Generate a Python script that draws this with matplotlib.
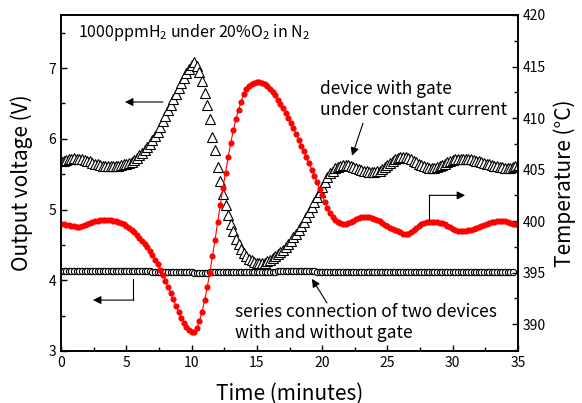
import matplotlib
matplotlib.use("Agg")
import matplotlib.pyplot as plt
import numpy as np
from matplotlib.ticker import MultipleLocator

plt.rcParams["font.family"] = ["Noto Sans CJK JP", "DejaVu Sans"]
plt.rcParams["mathtext.fontset"] = "custom"
plt.rcParams["mathtext.rm"] = "Noto Sans CJK JP"
plt.rcParams["mathtext.it"] = "Noto Sans CJK JP"

# sampling every 0.2 min, 0 .. 35 min
time = np.round(np.arange(176) * 0.2, 1)

# device with gate under constant current (left axis, V)
gate_v = [
    5.68, 5.69, 5.70, 5.71, 5.72, 5.73, 5.72, 5.72, 5.71, 5.70,
    5.69, 5.68, 5.66, 5.65, 5.64, 5.63, 5.62, 5.62, 5.61, 5.61,
    5.61, 5.62, 5.62, 5.63, 5.64, 5.65, 5.66, 5.67, 5.70, 5.73,
    5.77, 5.80, 5.84, 5.88, 5.93, 5.98, 6.04, 6.10, 6.17, 6.25,
    6.32, 6.40, 6.48, 6.56, 6.64, 6.72, 6.79, 6.86, 6.93, 6.99,
    7.04, 7.08, 7.03, 6.94, 6.81, 6.65, 6.48, 6.28, 6.03, 5.84,
    5.60, 5.40, 5.22, 5.06, 4.92, 4.80, 4.69, 4.59, 4.51, 4.44,
    4.38, 4.34, 4.30, 4.28, 4.26, 4.25, 4.24, 4.24, 4.25, 4.27,
    4.29, 4.32, 4.34, 4.37, 4.40, 4.43, 4.47, 4.51, 4.56, 4.61,
    4.66, 4.71, 4.77, 4.83, 4.90, 4.97, 5.04, 5.11, 5.18, 5.25,
    5.32, 5.39, 5.46, 5.51, 5.55, 5.58, 5.60, 5.62, 5.63, 5.63,
    5.63, 5.62, 5.60, 5.58, 5.57, 5.56, 5.55, 5.54, 5.53, 5.53,
    5.53, 5.54, 5.55, 5.57, 5.60, 5.63, 5.66, 5.69, 5.71, 5.73,
    5.74, 5.74, 5.74, 5.73, 5.71, 5.69, 5.67, 5.65, 5.63, 5.61,
    5.60, 5.59, 5.59, 5.59, 5.60, 5.61, 5.63, 5.65, 5.67, 5.68,
    5.70, 5.71, 5.72, 5.72, 5.72, 5.72, 5.72, 5.71, 5.70, 5.69,
    5.68, 5.67, 5.66, 5.65, 5.64, 5.63, 5.62, 5.61, 5.60, 5.60,
    5.59, 5.59, 5.59, 5.60, 5.61, 5.62,
]

# series connection of two devices (left axis, V), ends at 34.6 min
series_v = [
    4.13, 4.13, 4.13, 4.13, 4.13, 4.13, 4.13, 4.13, 4.13, 4.13,
    4.13, 4.13, 4.13, 4.13, 4.13, 4.13, 4.13, 4.13, 4.13, 4.13,
    4.13, 4.13, 4.13, 4.13, 4.13, 4.13, 4.13, 4.13, 4.13, 4.13,
    4.13, 4.13, 4.13, 4.13, 4.13, 4.12, 4.12, 4.12, 4.12, 4.12,
    4.12, 4.12, 4.12, 4.12, 4.12, 4.11, 4.11, 4.11, 4.11, 4.11,
    4.11, 4.10, 4.10, 4.10, 4.10, 4.10, 4.10, 4.11, 4.11, 4.11,
    4.11, 4.12, 4.12, 4.12, 4.12, 4.12, 4.12, 4.12, 4.12, 4.12,
    4.12, 4.12, 4.12, 4.12, 4.12, 4.12, 4.12, 4.12, 4.12, 4.12,
    4.12, 4.12, 4.12, 4.13, 4.13, 4.13, 4.13, 4.13, 4.13, 4.13,
    4.13, 4.13, 4.13, 4.13, 4.13, 4.13, 4.13, 4.13, 4.12, 4.12,
    4.12, 4.12, 4.12, 4.12, 4.12, 4.12, 4.12, 4.12, 4.12, 4.12,
    4.12, 4.12, 4.12, 4.12, 4.12, 4.12, 4.12, 4.12, 4.12, 4.12,
    4.12, 4.12, 4.12, 4.12, 4.12, 4.12, 4.12, 4.12, 4.12, 4.12,
    4.12, 4.12, 4.12, 4.12, 4.12, 4.12, 4.12, 4.12, 4.12, 4.12,
    4.12, 4.12, 4.12, 4.12, 4.12, 4.12, 4.12, 4.12, 4.12, 4.12,
    4.12, 4.12, 4.12, 4.12, 4.12, 4.12, 4.12, 4.12, 4.12, 4.12,
    4.12, 4.12, 4.12, 4.12, 4.12, 4.12, 4.12, 4.12, 4.12, 4.12,
    4.12, 4.12, 4.12, 4.12,
]

# temperature (right axis, deg C)
temp_c = [
    399.7, 399.7, 399.6, 399.6, 399.5, 399.5, 399.4, 399.4, 399.5, 399.6,
    399.7, 399.8, 399.9, 400.0, 400.0, 400.1, 400.1, 400.1, 400.1, 400.1,
    400.0, 400.0, 399.9, 399.8, 399.7, 399.5, 399.3, 399.1, 398.9, 398.7,
    398.4, 398.1, 397.8, 397.5, 397.1, 396.7, 396.2, 395.8, 395.3, 394.8,
    394.2, 393.6, 393.0, 392.4, 391.8, 391.2, 390.6, 390.1, 389.7, 389.4,
    389.2, 389.2, 389.6, 390.3, 391.2, 392.3, 393.6, 395.0, 396.6, 398.2,
    399.9, 401.6, 403.2, 404.7, 406.2, 407.6, 408.8, 409.9, 410.8, 411.6,
    412.3, 412.8, 413.1, 413.3, 413.4, 413.5, 413.5, 413.4, 413.3, 413.1,
    412.8, 412.5, 412.2, 411.8, 411.4, 411.0, 410.5, 410.0, 409.5, 409.0,
    408.5, 407.9, 407.3, 406.8, 406.2, 405.6, 405.0, 404.4, 403.8, 403.1,
    402.5, 401.9, 401.3, 400.8, 400.4, 400.1, 399.9, 399.8, 399.7, 399.7,
    399.8, 399.9, 400.0, 400.2, 400.3, 400.4, 400.4, 400.4, 400.4, 400.3,
    400.2, 400.1, 400.0, 399.8, 399.6, 399.5, 399.3, 399.2, 399.1, 399.0,
    398.9, 398.8, 398.8, 398.8, 398.9, 399.1, 399.3, 399.5, 399.7, 399.8,
    399.9, 399.9, 399.9, 399.9, 399.9, 399.8, 399.8, 399.7, 399.5, 399.4,
    399.2, 399.1, 399.0, 399.0, 399.0, 399.0, 399.1, 399.1, 399.2, 399.3,
    399.4, 399.5, 399.6, 399.7, 399.8, 399.9, 399.9, 400.0, 400.0, 400.0,
    400.0, 399.9, 399.8, 399.7, 399.7, 399.6,
]

W, H = 582, 403
fig = plt.figure(figsize=(W / 100, H / 100), dpi=100)
ax = fig.add_axes([61 / W, 1 - 351 / H, 457 / W, 336 / H])
ax2 = ax.twinx()

ax.plot(time, gate_v, ls="none", marker="^", ms=6.5, mfc="white",
        mec="black", mew=0.8)
ax.plot(time[:len(series_v)], series_v, ls="none", marker="o", ms=4.5,
        mfc="white", mec="black", mew=0.8)
ax2.plot(time, temp_c, "-", color="red", lw=0.8, marker="o", ms=3.4,
         mec="red", mfc="red")

ax.set_xlim(0, 35)
ax.set_ylim(3, 7.75)
ax2.set_ylim(387.4, 420)

ax.xaxis.set_major_locator(MultipleLocator(5))
ax.xaxis.set_minor_locator(MultipleLocator(2.5))
ax.yaxis.set_major_locator(MultipleLocator(1))
ax.yaxis.set_minor_locator(MultipleLocator(0.5))
ax2.yaxis.set_major_locator(MultipleLocator(5))
ax2.yaxis.set_minor_locator(MultipleLocator(2.5))

for a in (ax, ax2):
    a.tick_params(which="both", direction="in", width=1, labelsize=10)
    a.tick_params(which="major", length=4.5)
    a.tick_params(which="minor", length=3)
    for s in a.spines.values():
        s.set_linewidth(1.2)
ax.tick_params(which="both", top=False, right=False)
ax2.tick_params(which="both", left=False, right=True, top=False)

ax.set_xlabel("Time (minutes)", fontsize=15, labelpad=9)
ax.set_ylabel("Output voltage (V)", fontsize=15, labelpad=11)
ax2.set_ylabel("Temperature (\u00b0C)", fontsize=15, labelpad=5)

ax.text(1.3, 7.44, "1000ppmH$_2$ under 20%O$_2$ in N$_2$", fontsize=11.5,
        va="baseline", ha="left")
ax.text(19.84, 6.56, "device with gate\nunder constant current",
        fontsize=12.5, va="center", ha="left", linespacing=1.2)
ax.text(13.33, 3.40, "series connection of two devices\nwith and without gate",
        fontsize=12.5, va="center", ha="left", linespacing=1.2)

arrow = dict(arrowstyle="-|>", color="black", lw=0.8, mutation_scale=12,
             shrinkA=0, shrinkB=0)
# axis pointer arrows
ax.annotate("", xy=(4.9, 6.52), xytext=(7.8, 6.52), arrowprops=arrow)
ax.plot([5.5, 5.5], [4.02, 3.72], color="black", lw=0.8)
ax.annotate("", xy=(2.45, 3.72), xytext=(5.5, 3.72), arrowprops=arrow)
ax2.plot([28.2, 28.2], [400.1, 402.5], color="black", lw=0.8)
ax2.annotate("", xy=(30.95, 402.5), xytext=(28.2, 402.5), arrowprops=arrow)
# label pointer arrows
ax.annotate("", xy=(22.29, 5.76), xytext=(23.13, 6.22), arrowprops=arrow)
ax.annotate("", xy=(19.22, 4.02), xytext=(20.37, 3.68), arrowprops=arrow)

fig.savefig("out.png", dpi=100)
